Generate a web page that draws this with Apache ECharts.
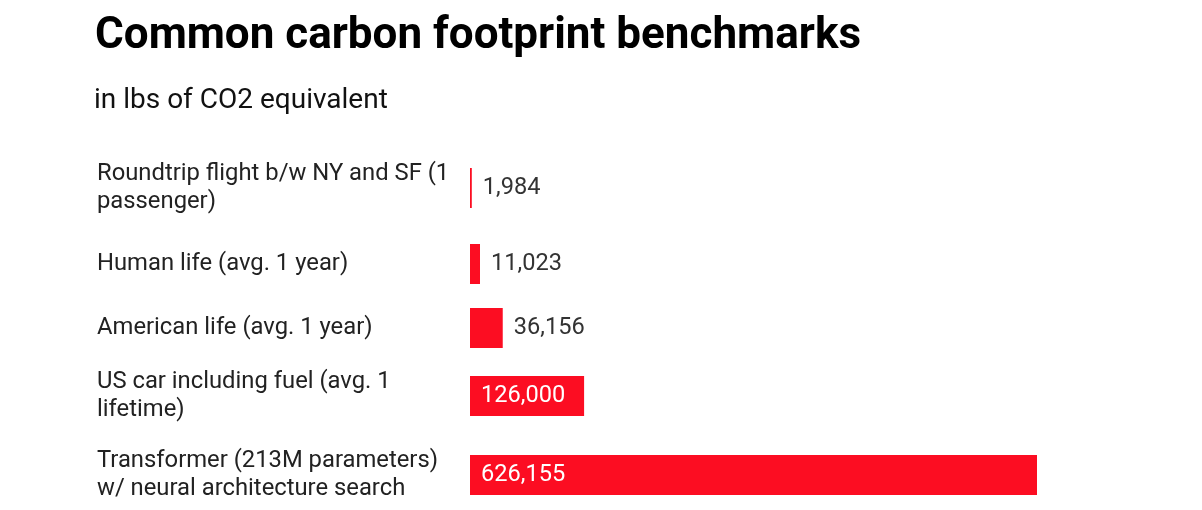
<!DOCTYPE html>
<html><head><meta charset="utf-8">
<script src="https://cdn.jsdelivr.net/npm/echarts@6/dist/echarts.min.js"></script>
<style>html,body{margin:0;padding:0;background:#fff}#c{width:1202px;height:510px}</style>
</head><body><div id="c"></div>
<script>
const categories = [
  "Roundtrip flight b/w NY and SF (1\npassenger)",
  "Human life (avg. 1 year)",
  "American life (avg. 1 year)",
  "US car including fuel (avg. 1\nlifetime)",
  "Transformer (213M parameters)\nw/ neural architecture search"
];
const values = [1984, 11023, 36156, 126000, 626155];
const insideLabel = [false, false, false, true, true];

const rowTops = [168, 244, 308, 376, 455];
const barH = 40;
const RED = '#fc0d22';
const fmt = v => v.toLocaleString('en-US');
const maxV = Math.max(...values);

const grids = [], xAxes = [], yAxes = [], series = [];
categories.forEach((cat, i) => {
  grids.push({left: 470, width: 567, top: rowTops[i], height: barH});
  xAxes.push({type: 'value', gridIndex: i, min: 0, max: maxV, show: false});
  yAxes.push({type: 'category', gridIndex: i, data: [cat],
    axisLine: {show: false}, axisTick: {show: false},
    axisLabel: {align: 'left', margin: 373, color: '#222', fontFamily: 'Roboto', fontSize: 23.8, lineHeight: 28}});
  series.push({type: 'bar', xAxisIndex: i, yAxisIndex: i, data: [values[i]],
    barWidth: barH, itemStyle: {color: RED}, silent: true,
    label: {show: true, position: insideLabel[i] ? 'insideLeft' : 'right',
      distance: 11,
      color: insideLabel[i] ? '#fff' : '#333', fontFamily: 'Roboto', fontSize: 23.6,
      formatter: p => fmt(p.value)}});
});

const chart = echarts.init(document.getElementById('c'), null, {renderer: 'canvas'});
chart.setOption({
  animation: false,
  title: [{text: 'Common carbon footprint benchmarks', left: 90, top: 10, padding: [5, 5, 5, 5],
    textStyle: {fontFamily: 'Roboto', fontWeight: 'bold', fontSize: 44, color: '#000'}},
    {text: 'in lbs of CO2 equivalent', left: 89, top: 82,
    textStyle: {fontFamily: 'Roboto', fontWeight: 'normal', fontSize: 28, color: '#111'}}],
  grid: grids, xAxis: xAxes, yAxis: yAxes, series: series
});
</script></body></html>
